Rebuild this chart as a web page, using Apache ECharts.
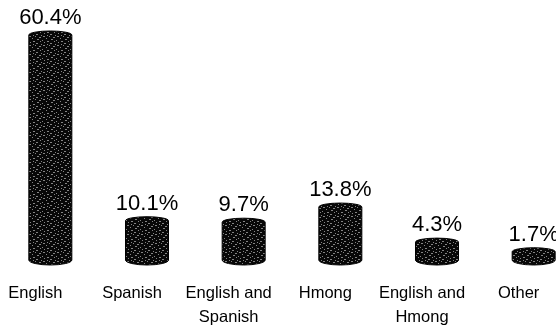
<!DOCTYPE html>
<html><head><meta charset="utf-8">
<script src="https://cdn.jsdelivr.net/npm/echarts@6/dist/echarts.min.js"></script>
<style>html,body{margin:0;padding:0;background:#fff}#c{width:556px;height:329px}</style>
</head><body><div id="c"></div>
<script>
const categories = ['English', 'Spanish', 'English and\nSpanish', 'Hmong', 'English and\nHmong', 'Other'];
const values = [60.4, 10.1, 9.7, 13.8, 4.3, 1.7];
const valueLabels = ['60.4%', '10.1%', '9.7%', '13.8%', '4.3%', '1.7%'];

// stipple texture (deterministic)
const tex = document.createElement('canvas');
tex.width = 14; tex.height = 9;
const tc = tex.getContext('2d');
tc.fillStyle = '#080808'; tc.fillRect(0, 0, 14, 9);
tc.fillStyle = 'rgba(255,255,255,0.5)';
const dots = [[1,0,2],[7,0,1],[11,1,2],[4,2,1],[9,3,2],[0,4,1],[5,5,2],[12,5,1],[2,6,1],[8,7,2],[13,8,1],[5,8,1]];
dots.forEach(d => tc.fillRect(d[0], d[1], d[2], 1));
const pattern = {image: tex, repeat: 'repeat'};

const chart = echarts.init(document.getElementById('c'), null, {renderer: 'canvas'});
chart.setOption({
  animation: false,
  grid: {left: 2, right: -26, top: 14, bottom: 75, containLabel: false, outerBoundsMode: 'none'},
  xAxis: {
    type: 'category', data: categories,
    axisLine: {show: false}, axisTick: {show: false},
    axisLabel: {interval: 0, color: '#000', fontFamily: 'Liberation Sans, Arial, sans-serif',
      fontSize: 16.5, lineHeight: 24, margin: 27, padding: [0, 30, 0, 0], hideOverlap: false}
  },
  yAxis: {type: 'value', min: 0, max: 65, show: false, splitLine: {show: false}},
  series: [{
    type: 'custom',
    clip: false,
    data: values.map((v, i) => [i, v]),
    renderItem: function (params, api) {
      const i = api.value(0), v = api.value(1);
      const top = api.coord([i, v]);
      const base = api.coord([i, 0]);
      const w = 43, cx = top[0], x0 = cx - w / 2;
      const yt = top[1], yb = base[1];
      const ryT = 4, ryB = 5;
      const bodyTop = yt + ryT, bodyBot = yb + 6;
      const path = 'M' + x0 + ' ' + bodyTop +
        ' A' + (w/2) + ' ' + ryT + ' 0 0 1 ' + (x0 + w) + ' ' + bodyTop +
        ' L' + (x0 + w) + ' ' + bodyBot +
        ' A' + (w/2) + ' ' + ryB + ' 0 0 1 ' + x0 + ' ' + bodyBot + ' Z';
      return {
        type: 'group',
        children: [
          {type: 'path', shape: {pathData: path}, style: {fill: pattern, stroke: '#000', lineWidth: 1}},
          {type: 'text', style: {text: valueLabels[i], x: cx, y: yt - 2, align: 'center', verticalAlign: 'bottom',
            fill: '#000', fontSize: 22, fontFamily: 'Liberation Sans, Arial, sans-serif'}}
        ]
      };
    }
  }]
});
</script></body></html>
